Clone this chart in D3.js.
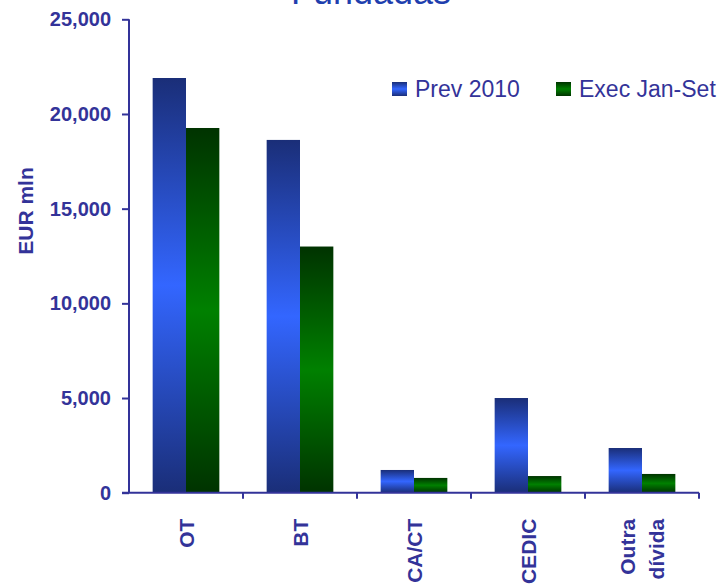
<!DOCTYPE html>
<html>
	<head>
		<meta charset="utf-8">
		<style>
			body { margin: 0; background: #ffffff; }
			text { font-family: "Liberation Sans", Arial, sans-serif; }
		</style>
	</head>
	<body>
		<script src="https://cdn.jsdelivr.net/npm/d3@7"></script>

		<div id="canvas"></div>

		<script>
				var categories = ["OT", "BT", "CA/CT", "CEDIC", "Outra dívida"];
				var series_names = ["Prev 2010", "Exec Jan-Set"];
				var prev_2010 = [21900, 18630, 1200, 5000, 2360];
				var exec_jan_set = [19260, 13000, 780, 880, 990];
				var y_ticks = [0, 5000, 10000, 15000, 20000, 25000];

				var width = 723;
				var height = 587;
				var ink = "#333399";

				var svg = d3.select("#canvas")
					.append("svg")
					.attr("width", width)
					.attr("height", height);

				// vertical gradients, dark at the ends and bright in the middle
				var defs = svg.append("defs");
				var gradients = [
					{ id: "grad_prev", edge: "#1a2e78", mid: "#3366ff" },
					{ id: "grad_exec", edge: "#003300", mid: "#008000" }
				];
				gradients.forEach(function (g) {
					var lg = defs.append("linearGradient")
						.attr("id", g.id)
						.attr("x1", 0).attr("y1", 0)
						.attr("x2", 0).attr("y2", 1);
					lg.append("stop").attr("offset", "0%").attr("stop-color", g.edge);
					lg.append("stop").attr("offset", "50%").attr("stop-color", g.mid);
					lg.append("stop").attr("offset", "100%").attr("stop-color", g.edge);
				});

				var x = d3.scaleBand()
					.domain(categories)
					.range([129, 699])
					.paddingInner(0.415)
					.paddingOuter(0.2075);

				var x_inner = d3.scaleBand()
					.domain(series_names)
					.range([0, x.bandwidth()]);

				var y = d3.scaleLinear()
					.domain([0, 25000])
					.range([492.7, 19.3]);

				var rows = categories.map(function (c, i) {
					return { cat: c, values: [prev_2010[i], exec_jan_set[i]] };
				});

				// title, mostly cut off by the top edge
				svg.append("text")
					.attr("x", 371)
					.attr("y", 4)
					.attr("text-anchor", "middle")
					.style("font-size", "36px")
					.style("fill", "#1f3fae")
					.text("Fundadas");

				var groups = svg.selectAll(".cat_group")
					.data(rows)
					.enter()
					.append("g")
					.attr("class", "cat_group")
					.attr("transform", function (d) { return "translate(" + x(d.cat) + ",0)"; });

				groups.selectAll("rect")
					.data(function (d) { return d.values; })
					.enter()
					.append("rect")
					.attr("x", function (d, i) { return x_inner(series_names[i]); })
					.attr("width", x_inner.bandwidth())
					.attr("y", function (d) { return y(d); })
					.attr("height", function (d) { return y(0) - y(d); })
					.attr("fill", function (d, i) { return "url(#" + gradients[i].id + ")"; });

				// y axis
				var y_axis = svg.append("g")
					.attr("transform", "translate(129,0)")
					.call(d3.axisLeft(y)
						.tickValues(y_ticks)
						.tickSize(7)
						.tickPadding(11)
						.tickFormat(d3.format(",")));
				y_axis.selectAll("path, line").style("stroke", ink).style("stroke-width", 2);
				y_axis.select(".domain").attr("d", "M0," + y(25000) + "V" + y(0));
				y_axis.selectAll("text")
					.style("font-size", "20px")
					.style("font-weight", "bold")
					.style("fill", ink);

				// x axis
				var x_axis = svg.append("g")
					.attr("transform", "translate(0," + y(0) + ")");
				x_axis.append("line")
					.attr("x1", 122).attr("x2", 699)
					.style("stroke", ink).style("stroke-width", 2);
				x_axis.selectAll(".xtick")
					.data(categories)
					.enter()
					.append("line")
					.attr("class", "xtick")
					.attr("x1", function (d) { return x(d) + x.bandwidth() + x.step() * x.paddingInner() / 2; })
					.attr("x2", function (d) { return x(d) + x.bandwidth() + x.step() * x.paddingInner() / 2; })
					.attr("y1", 0).attr("y2", 6)
					.style("stroke", ink).style("stroke-width", 2);

				var label_groups = x_axis.selectAll(".xlabel")
					.data(categories)
					.enter()
					.append("g")
					.attr("class", "xlabel");
				label_groups.each(function (d) {
					var lines = d.split(" ");
					var cx = x(d) + x.bandwidth() / 2;
					var g = d3.select(this);
					lines.forEach(function (ln, k) {
						var off = (k - (lines.length - 1) / 2) * 29;
						g.append("text")
							.attr("transform", "translate(" + (cx + off + 7.5) + ",26) rotate(-90)")
							.attr("text-anchor", "end")
							.style("font-size", "21px")
							.style("font-weight", "bold")
							.style("fill", ink)
							.text(ln);
					});
				});

				// y axis title
				svg.append("text")
					.attr("transform", "translate(33,211) rotate(-90)")
					.attr("text-anchor", "middle")
					.style("font-size", "21px")
					.style("font-weight", "bold")
					.style("fill", ink)
					.text("EUR mln");

				// legend
				var legend_x = [392, 556];
				var legend = svg.selectAll(".legend")
					.data(series_names)
					.enter()
					.append("g")
					.attr("class", "legend")
					.attr("transform", function (d, i) { return "translate(" + legend_x[i] + ",82)"; });
				legend.append("rect")
					.attr("width", 15)
					.attr("height", 14)
					.attr("fill", function (d, i) { return "url(#" + gradients[i].id + ")"; });
				legend.append("text")
					.attr("x", 23)
					.attr("y", 15)
					.style("font-size", "23px")
					.style("fill", ink)
					.text(function (d) { return d; });
		</script>
	</body>
</html>
